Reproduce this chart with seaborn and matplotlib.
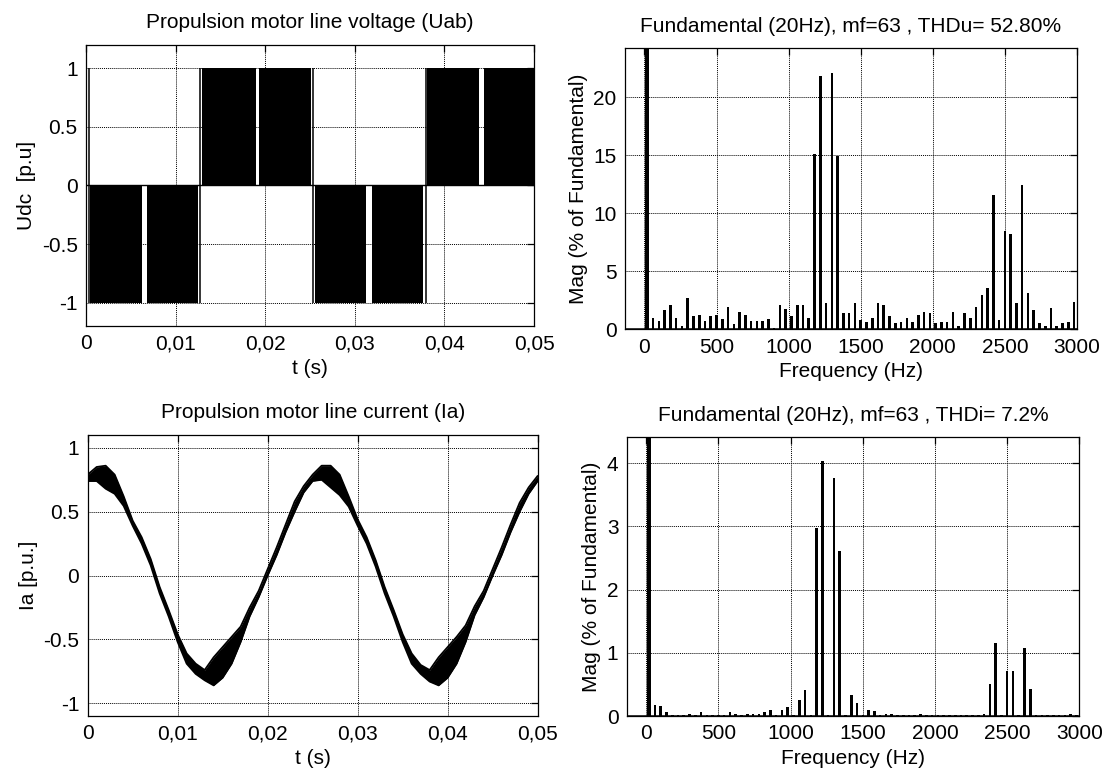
import matplotlib
matplotlib.use("Agg")
import matplotlib.pyplot as plt
import numpy as np
import pandas as pd
import seaborn as sns

# ---------------- Line voltage Uab (p.u.) ----------------
# Time intervals (s) in which the PWM output switches between 0 and -1 / 0 and +1
neg_band_start = [0.0005, 0.0068, 0.0256, 0.0319]
neg_band_end = [0.0062, 0.0125, 0.0312, 0.0376]
pos_band_start = [0.0129, 0.0193, 0.0381, 0.0444]
pos_band_end = [0.0190, 0.0251, 0.0439, 0.0500]
# Instants of the full-swing transitions between the half-waves (s)
edge_pulse_t = [0.0003, 0.0127, 0.0253, 0.0379]

# ---------------- Line current Ia (p.u.) ----------------
# Ripple envelope of the current, one sample per millisecond
ia_t_ms = list(range(0, 51))
ia_upper = [0.79, 0.85, 0.86, 0.79, 0.62, 0.43, 0.30, 0.13, -0.09, -0.27,
            -0.46, -0.61, -0.69, -0.74, -0.64, -0.56, -0.48, -0.40, -0.25, -0.12,
            0.05, 0.22, 0.40, 0.58, 0.70, 0.79, 0.86, 0.86, 0.79, 0.62,
            0.44, 0.30, 0.12, -0.09, -0.27, -0.46, -0.61, -0.70, -0.74, -0.64,
            -0.56, -0.48, -0.39, -0.24, -0.12, 0.05, 0.22, 0.40, 0.57, 0.69,
            0.78]
ia_lower = [0.74, 0.74, 0.68, 0.64, 0.545, 0.39, 0.25, 0.08, -0.14, -0.32,
            -0.52, -0.69, -0.77, -0.82, -0.86, -0.80, -0.69, -0.52, -0.32, -0.17,
            0.00, 0.16, 0.34, 0.50, 0.65, 0.74, 0.75, 0.69, 0.63, 0.54,
            0.39, 0.25, 0.07, -0.14, -0.32, -0.52, -0.69, -0.77, -0.83, -0.86,
            -0.80, -0.69, -0.52, -0.31, -0.17, 0.00, 0.16, 0.34, 0.50, 0.64,
            0.74]

# ---------------- Harmonic spectra (% of fundamental) ----------------
fund_freq = 20
fund_mag = 100.0
harm_freq = list(range(60, 3000, 40))  # odd harmonics 3 ... 149 of 20 Hz
mag_u = [1.0, 0.72, 1.67, 2.1, 1.0, 0.29, 2.67, 1.15, 1.26, 0.72,
         1.15, 1.26, 0.86, 1.95, 0.43, 1.52, 1.26, 0.72, 0.72, 0.72,
         0.86, 0.1, 2.1, 1.72, 1.15, 2.1, 2.1, 1.0, 15.1, 21.8,
         2.24, 22.1, 14.9, 1.38, 1.38, 2.24, 0.8, 0.66, 1.0, 2.24,
         2.1, 1.15, 0.52, 0.66, 1.0, 0.66, 1.24, 1.52, 1.38, 0.52,
         0.66, 0.66, 1.52, 0.29, 1.38, 1.0, 1.95, 2.95, 3.53, 11.55,
         0.8, 8.48, 8.2, 2.24, 12.44, 3.1, 1.67, 0.52, 0.29, 1.81,
         0.29, 0.52, 0.66, 2.36]
mag_i = [0.18, 0.16, 0.07, 0.02, 0.02, 0.02, 0.04, 0.02, 0.07, 0.02,
         0.02, 0.02, 0.02, 0.07, 0.04, 0.02, 0.04, 0.04, 0.04, 0.07,
         0.10, 0.02, 0.10, 0.15, 0.02, 0.26, 0.41, 0.02, 2.97, 4.03,
         0.02, 3.77, 2.61, 0.02, 0.34, 0.21, 0.02, 0.10, 0.08, 0.02,
         0.04, 0.04, 0.02, 0.02, 0.02, 0.02, 0.04, 0.02, 0.02, 0.02,
         0.02, 0.02, 0.02, 0.02, 0.02, 0.02, 0.02, 0.04, 0.50, 1.16,
         0.02, 0.72, 0.72, 0.02, 1.08, 0.42, 0.02, 0.02, 0.02, 0.02,
         0.02, 0.02, 0.04, 0.02]

time_ticks = [0, 0.01, 0.02, 0.03, 0.04, 0.05]
time_labels = ["0", "0,01", "0,02", "0,03", "0,04", "0,05"]
freq_ticks = [0, 500, 1000, 1500, 2000, 2500, 3000]

sns.set_theme(style="white")
plt.rcParams.update({
    "font.family": ["Liberation Sans", "DejaVu Sans"],
    "font.size": 15,
    "axes.edgecolor": "black",
    "axes.linewidth": 0.9,
    "text.color": "black",
    "axes.labelcolor": "black",
    "xtick.color": "black",
    "ytick.color": "black",
    "axes.unicode_minus": False,
})

FS = 15
fig = plt.figure(figsize=(11.04, 7.73), dpi=100)
ax_u = fig.add_axes([0.0779, 0.5783, 0.4058, 0.3635])
ax_fu = fig.add_axes([0.5661, 0.5740, 0.4094, 0.3635])
ax_i = fig.add_axes([0.0794, 0.0737, 0.4076, 0.3635])
ax_fi = fig.add_axes([0.5677, 0.0737, 0.4100, 0.3605])


def style_axes(ax):
    ax.set_axisbelow(True)
    ax.grid(True, color="black", linestyle=(0, (1, 1)), linewidth=0.7)
    ax.tick_params(which="both", direction="in", top=True, right=True,
                   length=5, width=0.9, labelsize=FS, pad=6)
    for sp in ax.spines.values():
        sp.set_visible(True)
        sp.set_color("black")
        sp.set_linewidth(0.9)


# ---- Line voltage ----
for s, e in zip(neg_band_start, neg_band_end):
    ax_u.fill_between([s, e], [0, 0], [-1, -1], color="black", linewidth=0)
for s, e in zip(pos_band_start, pos_band_end):
    ax_u.fill_between([s, e], [0, 0], [1, 1], color="black", linewidth=0)
ax_u.vlines(edge_pulse_t, -1, 1, color="black", linewidth=1.1)
sns.lineplot(x=[0, 0.05], y=[0, 0], color="black", linewidth=1.0, ax=ax_u)
ax_u.set_xlim(0, 0.05)
ax_u.set_ylim(-1.2, 1.2)
ax_u.set_xticks(time_ticks)
ax_u.set_xticklabels(time_labels)
ax_u.set_yticks([-1, -0.5, 0, 0.5, 1])
ax_u.set_yticklabels(["-1", "-0.5", "0", "0.5", "1"])
ax_u.set_title("Propulsion motor line voltage (Uab)", fontsize=FS, pad=12)
ax_u.set_xlabel("t (s)", fontsize=FS)
ax_u.set_ylabel("Udc  [p.u]", fontsize=FS)
style_axes(ax_u)

# ---- Line current ----
df_i = pd.DataFrame({"t": np.array(ia_t_ms) / 1000.0,
                     "upper": ia_upper, "lower": ia_lower})
ax_i.fill_between(df_i["t"], df_i["lower"], df_i["upper"], color="black",
                  linewidth=0)
sns.lineplot(data=df_i, x="t", y="upper", color="black", linewidth=1.3, ax=ax_i)
sns.lineplot(data=df_i, x="t", y="lower", color="black", linewidth=1.3, ax=ax_i)
ax_i.set_xlim(0, 0.05)
ax_i.set_ylim(-1.1, 1.1)
ax_i.set_xticks(time_ticks)
ax_i.set_xticklabels(time_labels)
ax_i.set_yticks([-1, -0.5, 0, 0.5, 1])
ax_i.set_yticklabels(["-1", "-0.5", "0", "0.5", "1"])
ax_i.set_title("Propulsion motor line current (Ia)", fontsize=FS, pad=12)
ax_i.set_xlabel("t (s)", fontsize=FS)
ax_i.set_ylabel("Ia [p.u.]", fontsize=FS)
style_axes(ax_i)


# ---- Spectra ----
def spectrum(ax, mags, top, yticks, title):
    df = pd.DataFrame({"f": harm_freq, "mag": mags})
    sns.barplot(data=df, x="f", y="mag", native_scale=True, width=0.45,
                color="black", saturation=1, errorbar=None, linewidth=0, ax=ax)
    ax.bar([fund_freq], [fund_mag], width=28, color="black", linewidth=0)
    ax.axhline(0, color="black", linewidth=1.8)
    ax.set_xlim(-135, 3000)
    ax.set_ylim(0, top)
    ax.set_xticks(freq_ticks)
    ax.set_xticklabels([str(f) for f in freq_ticks])
    ax.set_yticks(yticks)
    ax.set_yticklabels([str(v) for v in yticks])
    ax.set_title(title, fontsize=FS, pad=12)
    ax.set_xlabel("Frequency (Hz)", fontsize=FS)
    ax.set_ylabel("Mag (% of Fundamental)", fontsize=FS)
    style_axes(ax)


spectrum(ax_fu, mag_u, 24.2, [0, 5, 10, 15, 20],
         "Fundamental (20Hz), mf=63 , THDu= 52.80%")
spectrum(ax_fi, mag_i, 4.41, [0, 1, 2, 3, 4],
         "Fundamental (20Hz), mf=63 , THDi= 7.2%")

fig.savefig("out.png", dpi=100, facecolor="white")
